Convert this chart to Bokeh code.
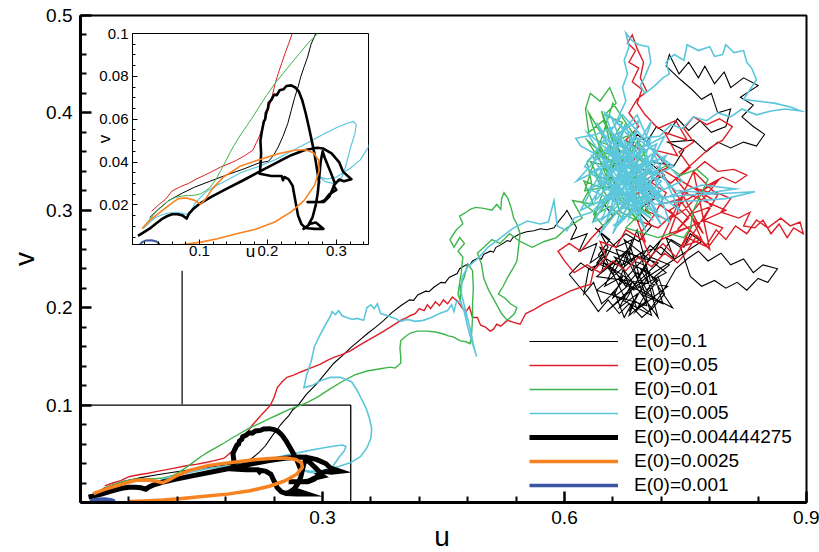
from bokeh.plotting import figure
from bokeh.models import Range1d, FixedTicker, Legend, LegendItem, CustomJSTickFormatter, Div
from bokeh.layouts import column
from bokeh.embed import file_html
from bokeh.resources import INLINE

# ---------------- data (u, v) ----------------
LABELS = ["E(0)=0.1", "E(0)=0.05", "E(0)=0.01", "E(0)=0.005",
          "E(0)=0.004444275", "E(0)=0.0025", "E(0)=0.001"]

E0_1 = [(0.027,0.0140),(0.040,0.0180),(0.055,0.0220),(0.075,0.0255),(0.093,0.0283),(0.115,0.0310),
    (0.140,0.0340),(0.165,0.0368),(0.187,0.0396),(0.201,0.0404),(0.208,0.0430),(0.215,0.0470),
    (0.222,0.0520),(0.229,0.0580),(0.234,0.0640),(0.239,0.0700),(0.244,0.0750),(0.248,0.0798),
    (0.253,0.0845),(0.258,0.0890),(0.263,0.0950),(0.270,0.1000),(0.280,0.1110),(0.293,0.1220),
    (0.304,0.1330),(0.314,0.1430),(0.325,0.1510),(0.335,0.1590),(0.345,0.1660),(0.355,0.1730),
    (0.366,0.1800),(0.376,0.1870),(0.386,0.1950),(0.397,0.2020),(0.408,0.2080),(0.413,0.2075),
    (0.418,0.2130),(0.428,0.2170),(0.432,0.2165),(0.438,0.2210),(0.447,0.2260),(0.452,0.2255),
    (0.457,0.2310),(0.467,0.2350),(0.470,0.2400),(0.478,0.2440),(0.482,0.2430),(0.486,0.2480),
    (0.493,0.2510),(0.497,0.2500),(0.500,0.2550),(0.508,0.2580),(0.512,0.2570),(0.515,0.2620),
    (0.522,0.2650),(0.529,0.2690),(0.533,0.2680),(0.536,0.2720),(0.545,0.2760),(0.553,0.2780),
    (0.562,0.2790),(0.570,0.2810),(0.578,0.2800),(0.587,0.2820),(0.594,0.2900),(0.600,0.2960),
    (0.603,0.300),(0.615,0.282),(0.608,0.270),(0.628,0.276),(0.618,0.258),(0.640,0.266),(0.632,0.246),
    (0.652,0.258),(0.646,0.236),(0.664,0.248),(0.650,0.222),(0.672,0.232),(0.660,0.210),(0.684,0.226),
    (0.668,0.200),(0.690,0.214),(0.680,0.192),(0.700,0.206),(0.688,0.196),(0.706,0.222),(0.694,0.240),
    (0.716,0.228),(0.700,0.212),(0.722,0.204),(0.712,0.232),(0.730,0.244),(0.706,0.252),(0.690,0.230),
    (0.674,0.256),(0.660,0.234),(0.642,0.254),(0.656,0.270),(0.638,0.282),(0.664,0.262),(0.684,0.270),
    (0.672,0.244),(0.698,0.258),(0.720,0.262),(0.736,0.250),(0.726,0.272),(0.744,0.262),(0.756,0.232),
    (0.770,0.222),(0.786,0.228),(0.800,0.220),(0.814,0.226),(0.826,0.218),(0.840,0.230),(0.852,0.226),
    (0.864,0.240),(0.846,0.244),(0.834,0.236),(0.822,0.250),(0.806,0.244),(0.794,0.256),(0.778,0.248),
    (0.766,0.258),(0.752,0.250),(0.738,0.240),(0.720,0.214),(0.704,0.196),(0.686,0.208),(0.674,0.190),
    (0.662,0.216),(0.646,0.204),(0.636,0.226),(0.624,0.214),(0.630,0.240),(0.648,0.246),(0.658,0.262),
    (0.676,0.276),(0.692,0.268),(0.708,0.284),(0.690,0.300),(0.712,0.312),(0.698,0.326),(0.724,0.336),
    (0.704,0.350),(0.736,0.346),(0.748,0.362),(0.728,0.370),(0.760,0.372),(0.776,0.360),(0.790,0.370),
    (0.806,0.364),(0.822,0.370),(0.838,0.366),(0.848,0.378),(0.834,0.386),(0.820,0.396),(0.834,0.408),
    (0.818,0.416),(0.840,0.428),(0.822,0.436),(0.806,0.426),(0.798,0.442),(0.786,0.430),(0.774,0.448),
    (0.766,0.436),(0.754,0.452),(0.742,0.440),(0.730,0.460),(0.726,0.448),(0.744,0.434),(0.758,0.424),
    (0.770,0.414),(0.782,0.420),(0.790,0.400),(0.806,0.404),(0.800,0.386),(0.782,0.380),(0.768,0.392),
    (0.754,0.382),(0.740,0.394),(0.728,0.378),(0.714,0.386),(0.702,0.370),(0.690,0.378),(0.680,0.360),
    (0.664,0.372),(0.672,0.350),(0.652,0.342),(0.666,0.322),(0.646,0.310),(0.660,0.294),(0.642,0.280),
    (0.654,0.262),(0.640,0.246),(0.662,0.238),(0.676,0.222),(0.690,0.236),(0.702,0.218),(0.716,0.232),
    (0.724,0.214),(0.710,0.200),(0.696,0.190),(0.680,0.204),(0.668,0.194),(0.654,0.208),(0.642,0.196),
    (0.630,0.210),(0.618,0.222),(0.606,0.234),(0.620,0.246),(0.634,0.238),(0.648,0.252),(0.664,0.244),
    (0.678,0.258),(0.694,0.250),(0.706,0.264),(0.720,0.254),(0.732,0.270),(0.748,0.262),(0.756,0.276),
    (0.770,0.268),(0.700,0.230),(0.652,0.196),(0.716,0.246),(0.664,0.260),(0.690,0.198),(0.728,0.222),
    (0.640,0.232),(0.682,0.262),(0.708,0.192),(0.658,0.214),(0.720,0.270),(0.676,0.208),(0.644,0.262),
    (0.698,0.244),(0.734,0.200),(0.668,0.228),(0.690,0.280),(0.712,0.210),(0.650,0.246),(0.686,0.218),
    (0.726,0.236),(0.674,0.270),(0.702,0.202),(0.640,0.218),(0.694,0.256),(0.716,0.190),(0.662,0.252),
    (0.706,0.236),(0.680,0.196)]

E0_05 = [(0.030,0.0170),(0.040,0.0200),(0.050,0.0225),(0.060,0.0265),(0.072,0.0285),(0.084,0.0300),
    (0.095,0.0320),(0.107,0.0338),(0.118,0.0355),(0.131,0.0377),(0.143,0.0392),(0.154,0.0408),
    (0.166,0.0430),(0.178,0.0455),(0.183,0.0490),(0.187,0.0517),(0.192,0.0560),(0.196,0.0595),
    (0.201,0.0650),(0.206,0.0704),(0.210,0.0760),(0.215,0.0813),(0.220,0.0860),(0.225,0.0907),
    (0.230,0.0950),(0.2355,0.1000),(0.240,0.108),(0.244,0.118),(0.250,0.124),(0.256,0.1285),
    (0.265,0.131),(0.273,0.134),(0.285,0.138),(0.2975,0.142),(0.306,0.146),(0.314,0.149),(0.325,0.152),
    (0.335,0.156),(0.345,0.161),(0.355,0.166),(0.366,0.171),(0.376,0.176),(0.386,0.181),(0.397,0.187),
    (0.405,0.190),(0.409,0.192),(0.415,0.194),(0.420,0.199),(0.426,0.197),(0.430,0.203),(0.434,0.199),
    (0.440,0.206),(0.445,0.202),(0.450,0.208),(0.455,0.204),(0.461,0.211),(0.467,0.207),(0.473,0.200),
    (0.478,0.196),(0.482,0.201),(0.486,0.190),(0.492,0.190),(0.496,0.182),(0.502,0.180),(0.508,0.176),
    (0.512,0.178),(0.516,0.183),(0.521,0.181),(0.529,0.187),(0.537,0.185),(0.545,0.183),(0.552,0.194),
    (0.562,0.198),(0.574,0.204),(0.590,0.210),(0.607,0.217),(0.620,0.221),(0.632,0.224),(0.636,0.238),
    (0.652,0.252),(0.644,0.268),(0.664,0.262),(0.676,0.280),(0.700,0.268),(0.690,0.290),(0.716,0.282),
    (0.734,0.296),(0.718,0.306),(0.746,0.312),(0.730,0.276),(0.758,0.284),(0.744,0.262),(0.770,0.270),
    (0.756,0.296),(0.782,0.304),(0.764,0.322),(0.790,0.316),(0.772,0.290),(0.796,0.282),(0.778,0.262),
    (0.752,0.272),(0.738,0.252),(0.722,0.266),(0.706,0.252),(0.694,0.276),(0.712,0.296),(0.726,0.318),
    (0.702,0.332),(0.728,0.344),(0.710,0.362),(0.740,0.356),(0.724,0.380),(0.752,0.372),(0.738,0.392),
    (0.716,0.384),(0.700,0.398),(0.690,0.410),(0.696,0.424),(0.684,0.432),(0.692,0.446),(0.680,0.452),
    (0.688,0.464),(0.678,0.472),(0.684,0.480),(0.690,0.466),(0.698,0.452),(0.694,0.436),(0.702,0.422),
    (0.690,0.414),(0.680,0.400),(0.692,0.386),(0.676,0.372),(0.694,0.362),(0.682,0.346),(0.706,0.340),
    (0.688,0.324),(0.714,0.318),(0.700,0.300),(0.728,0.290),(0.748,0.300),(0.762,0.312),(0.778,0.326),
    (0.796,0.334),(0.812,0.328),(0.826,0.336),(0.810,0.342),(0.790,0.340),(0.774,0.350),(0.760,0.340),
    (0.784,0.320),(0.806,0.312),(0.794,0.298),(0.816,0.292),(0.830,0.298),(0.822,0.284),(0.836,0.282),
    (0.846,0.290),(0.856,0.276),(0.866,0.286),(0.876,0.272),(0.884,0.282),(0.896,0.276),(0.892,0.288),
    (0.880,0.284),(0.868,0.292),(0.852,0.282),(0.838,0.290),(0.826,0.276),(0.812,0.284),(0.800,0.270),
    (0.788,0.280),(0.776,0.264),(0.764,0.274),(0.752,0.258),(0.740,0.246),(0.724,0.256),(0.708,0.242),
    (0.692,0.252),(0.676,0.238),(0.660,0.248),(0.644,0.236),(0.628,0.244),(0.612,0.236),(0.600,0.248),
    (0.592,0.258),(0.606,0.266),(0.620,0.258),(0.634,0.272),(0.650,0.286),(0.668,0.300),(0.684,0.314),
    (0.700,0.322),(0.716,0.336),(0.732,0.328),(0.748,0.340),(0.764,0.352),(0.780,0.364),(0.796,0.372),
    (0.808,0.386),(0.792,0.394),(0.776,0.388),(0.760,0.396),(0.748,0.384),(0.760,0.370),(0.742,0.360),
    (0.756,0.344),(0.738,0.332),(0.752,0.318),(0.736,0.306),(0.754,0.292),(0.740,0.280),(0.790,0.330),
    (0.730,0.300),(0.780,0.260),(0.760,0.340),(0.720,0.270),(0.800,0.300),(0.744,0.320),(0.772,0.276),
    (0.716,0.344),(0.786,0.310),(0.750,0.264)]

E0_01 = [(0.020,0.0104),(0.028,0.0135),(0.0365,0.0167),(0.046,0.0195),(0.055,0.0221),(0.065,0.0235),
    (0.074,0.0241),(0.084,0.0244),(0.093,0.0245),(0.102,0.0252),(0.110,0.0268),(0.116,0.0283),
    (0.124,0.0320),(0.131,0.0360),(0.140,0.0415),(0.149,0.0470),(0.158,0.0517),(0.168,0.0564),
    (0.178,0.0611),(0.187,0.0657),(0.198,0.0711),(0.210,0.0766),(0.222,0.0813),(0.234,0.0860),
    (0.246,0.0906),(0.258,0.0953),(0.270,0.0990),(0.282,0.1030),(0.293,0.108),(0.310,0.117),
    (0.326,0.125),(0.340,0.131),(0.355,0.135),(0.370,0.137),(0.384,0.139),(0.390,0.138),(0.397,0.143),
    (0.397,0.150),(0.396,0.158),(0.397,0.166),(0.402,0.170),(0.409,0.174),(0.418,0.176),(0.430,0.176),
    (0.440,0.175),(0.450,0.173),(0.456,0.171),(0.462,0.170),(0.471,0.166),(0.478,0.165),(0.483,0.163),
    (0.485,0.175),(0.486,0.190),(0.486,0.204),(0.487,0.220),(0.486,0.238),(0.480,0.245),(0.476,0.232),
    (0.471,0.222),(0.471,0.207),(0.468,0.214),(0.472,0.236),(0.474,0.252),(0.468,0.258),(0.476,0.266),
    (0.470,0.272),(0.463,0.262),(0.458,0.270),(0.466,0.280),(0.474,0.286),(0.470,0.294),(0.478,0.298),
    (0.483,0.301),(0.490,0.303),(0.500,0.302),(0.510,0.300),(0.516,0.306),(0.521,0.301),(0.522,0.312),
    (0.525,0.318),(0.530,0.312),(0.534,0.302),(0.537,0.292),(0.541,0.286),(0.545,0.276),(0.543,0.262),
    (0.541,0.248),(0.536,0.240),(0.530,0.232),(0.524,0.222),(0.518,0.214),(0.526,0.210),(0.533,0.204),
    (0.541,0.200),(0.538,0.194),(0.533,0.190),(0.529,0.187),(0.522,0.194),(0.514,0.206),(0.506,0.218),
    (0.500,0.230),(0.497,0.245),(0.492,0.256),(0.500,0.262),(0.510,0.270),(0.520,0.266),(0.532,0.276),
    (0.545,0.268),(0.560,0.262),(0.575,0.268),(0.590,0.272),(0.603,0.282),(0.622,0.292),(0.610,0.310),
    (0.636,0.306),(0.624,0.330),(0.650,0.322),(0.632,0.350),(0.660,0.344),(0.640,0.372),(0.668,0.362),
    (0.648,0.392),(0.630,0.380),(0.626,0.404),(0.632,0.420),(0.644,0.412),(0.656,0.426),(0.664,0.410),
    (0.650,0.398),(0.672,0.390),(0.658,0.370),(0.684,0.378),(0.670,0.352),(0.694,0.356),(0.676,0.330),
    (0.700,0.338),(0.682,0.310),(0.704,0.316),(0.688,0.290),(0.666,0.300),(0.648,0.284),(0.636,0.296),
    (0.654,0.312),(0.638,0.336),(0.662,0.330),(0.646,0.356),(0.672,0.344),(0.690,0.370),(0.702,0.352),
    (0.680,0.326),(0.698,0.300),(0.676,0.282),(0.700,0.276),(0.716,0.272),(0.730,0.276),(0.748,0.272),
    (0.756,0.282),(0.760,0.300),(0.770,0.318),(0.778,0.332),(0.764,0.342),(0.744,0.336),(0.726,0.346),
    (0.710,0.338),(0.694,0.352),(0.678,0.364),(0.660,0.356),(0.642,0.362),(0.628,0.350),(0.634,0.326),
    (0.622,0.308),(0.640,0.296),(0.656,0.304),(0.672,0.292),(0.690,0.304),(0.706,0.296),(0.630,0.400),
    (0.668,0.300),(0.640,0.360),(0.690,0.330),(0.625,0.320),(0.660,0.410),(0.700,0.360),(0.636,0.290),
    (0.676,0.390),(0.650,0.330),(0.690,0.290),(0.628,0.372),(0.664,0.346),(0.646,0.402),(0.684,0.316)]

E0_005 = [(0.018,0.0090),(0.026,0.0115),(0.035,0.0140),(0.046,0.0155),(0.055,0.0162),(0.065,0.0165),
    (0.074,0.0162),(0.081,0.0155),(0.088,0.0172),(0.093,0.0205),(0.100,0.0230),(0.110,0.0262),
    (0.125,0.0290),(0.140,0.0315),(0.160,0.0350),(0.187,0.0380),(0.210,0.0410),(0.234,0.0450),
    (0.258,0.0490),(0.281,0.0530),(0.300,0.0560),(0.315,0.0580),(0.325,0.0590),(0.329,0.0575),
    (0.327,0.0530),(0.321,0.0470),(0.316,0.0410),(0.311,0.0350),(0.305,0.0310),(0.295,0.0300),
    (0.283,0.0310),(0.276,0.0330),(0.286,0.0320),(0.300,0.0330),(0.320,0.0370),(0.335,0.0410),
    (0.347,0.0470),(0.355,0.0560),(0.360,0.0660),(0.361,0.0760),(0.358,0.0870),(0.354,0.0970),
    (0.349,0.1050),(0.343,0.1150),(0.336,0.1240),(0.322,0.1285),(0.310,0.1285),(0.2975,0.1250),
    (0.287,0.1200),(0.277,0.1180),(0.280,0.1300),(0.286,0.1450),(0.290,0.1600),(0.2975,0.1730),
    (0.304,0.1830),(0.309,0.1900),(0.312,0.1960),(0.316,0.1930),(0.320,0.1970),(0.324,0.1920),
    (0.330,0.1900),(0.337,0.1880),(0.343,0.1890),(0.351,0.1870),(0.355,0.2000),(0.360,0.2030),
    (0.364,0.1990),(0.368,0.2040),(0.372,0.1940),(0.380,0.1920),(0.390,0.1890),(0.397,0.1860),
    (0.405,0.1880),(0.415,0.1860),(0.425,0.1870),(0.435,0.1900),(0.445,0.1940),(0.455,0.1970),
    (0.460,0.2030),(0.463,0.1960),(0.466,0.2060),(0.471,0.2070),(0.476,0.1950),(0.480,0.1800),
    (0.484,0.1680),(0.488,0.1580),(0.491,0.1500),(0.487,0.1620),(0.484,0.1750),(0.478,0.1950),
    (0.472,0.2150),(0.473,0.2310),(0.480,0.2420),(0.492,0.2500),(0.505,0.2620),(0.521,0.2720),
    (0.537,0.2820),(0.554,0.2890),(0.570,0.2860),(0.580,0.2880),(0.587,0.3100),(0.591,0.2840),
    (0.603,0.279),(0.612,0.292),(0.640,0.300),(0.700,0.352),(0.655,0.372),(0.690,0.295),(0.712,0.340),
    (0.648,0.320),(0.676,0.388),(0.704,0.310),(0.660,0.284),(0.722,0.322),(0.684,0.366),(0.632,0.338),
    (0.694,0.306),(0.668,0.350),(0.716,0.298),(0.652,0.362),(0.638,0.310),(0.706,0.372),(0.680,0.292),
    (0.726,0.356),(0.662,0.330),(0.690,0.382),(0.646,0.290),(0.700,0.330),(0.672,0.304),(0.634,0.356),
    (0.718,0.314),(0.684,0.340),(0.658,0.396),(0.696,0.362),(0.642,0.328),(0.710,0.290),(0.670,0.318),
    (0.700,0.312),(0.730,0.314),(0.760,0.316),(0.790,0.317),(0.836,0.319),(0.800,0.312),(0.770,0.310),
    (0.740,0.309),(0.712,0.306),(0.688,0.330),(0.664,0.346),(0.620,0.366),(0.614,0.374),(0.640,0.378),
    (0.662,0.386),(0.668,0.398),(0.676,0.412),(0.672,0.426),(0.678,0.440),(0.674,0.454),(0.680,0.468),
    (0.676,0.482),(0.684,0.474),(0.692,0.470),(0.704,0.468),(0.707,0.452),(0.700,0.438),(0.694,0.428),
    (0.700,0.420),(0.712,0.428),(0.722,0.436),(0.730,0.440),(0.726,0.452),(0.736,0.460),(0.748,0.454),
    (0.752,0.470),(0.766,0.464),(0.780,0.468),(0.786,0.458),(0.796,0.460),(0.800,0.470),(0.810,0.462),
    (0.822,0.464),(0.826,0.452),(0.832,0.446),(0.838,0.434),(0.830,0.424),(0.822,0.414),(0.840,0.412),
    (0.860,0.410),(0.880,0.406),(0.893,0.402),(0.874,0.404),(0.856,0.402),(0.838,0.398),(0.820,0.404),
    (0.806,0.396),(0.790,0.400),(0.776,0.392),(0.760,0.396),(0.746,0.384),(0.732,0.388),(0.718,0.376),
    (0.690,0.374),(0.650,0.346),(0.698,0.284),(0.664,0.362),(0.724,0.304),(0.676,0.336),(0.636,0.300),
    (0.708,0.358),(0.660,0.310),(0.692,0.392),(0.644,0.368),(0.720,0.330),(0.668,0.286),(0.702,0.346),
    (0.630,0.322),(0.686,0.300),(0.714,0.368),(0.652,0.338),(0.696,0.318),(0.674,0.372),(0.738,0.320),
    (0.780,0.318),(0.812,0.322),(0.770,0.326),(0.722,0.312),(0.682,0.352),(0.656,0.300),(0.694,0.336),
    (0.668,0.376),(0.620,0.300),(0.735,0.345),(0.650,0.400),(0.700,0.280),(0.628,0.380),(0.742,0.300),
    (0.690,0.398),(0.615,0.330),(0.724,0.376),(0.660,0.276),(0.708,0.392),(0.636,0.288),(0.746,0.330),
    (0.672,0.398),(0.625,0.345),(0.730,0.288),(0.698,0.366),(0.644,0.276),(0.716,0.352),(0.660,0.340),
    (0.688,0.310),(0.640,0.390),(0.720,0.285),(0.676,0.360),(0.630,0.305),(0.705,0.325),(0.655,0.385),
    (0.690,0.345),(0.665,0.315)]

E0_004444275 = [(0.010,0.0055),(0.020,0.0075),(0.027,0.0089),(0.036,0.0112),(0.046,0.0136),(0.053,0.0148),
    (0.060,0.0156),(0.068,0.0156),(0.075,0.0151),(0.081,0.0136),(0.085,0.0160),(0.090,0.0178),
    (0.100,0.0205),(0.117,0.0237),(0.140,0.0276),(0.164,0.0315),(0.187,0.0354),(0.210,0.0393),
    (0.234,0.0432),(0.253,0.0455),(0.272,0.0467),(0.281,0.0463),(0.293,0.0440),(0.304,0.0400),
    (0.310,0.0354),(0.322,0.0320),(0.311,0.0310),(0.304,0.0318),(0.296,0.0290),(0.300,0.0270),
    (0.290,0.0250),(0.283,0.0222),(0.276,0.0213),(0.258,0.0213),(0.282,0.0214),(0.290,0.0240),
    (0.298,0.0300),(0.292,0.0350),(0.283,0.0420),(0.280,0.0450),(0.277,0.0400),(0.275,0.0330),
    (0.273,0.0260),(0.270,0.0200),(0.265,0.0140),(0.258,0.0100),(0.252,0.0088),(0.262,0.0112),
    (0.270,0.0118),(0.281,0.0088),(0.268,0.0088),(0.255,0.0092),(0.249,0.0110),(0.244,0.0150),
    (0.240,0.0220),(0.236,0.0290),(0.230,0.0320),(0.224,0.0330),(0.222,0.0315),(0.220,0.0335),
    (0.205,0.0335),(0.188,0.0345),(0.189,0.0380),(0.190,0.0440),(0.189,0.0500),(0.191,0.0540),
    (0.194,0.0590),(0.196,0.0600),(0.197,0.0630),(0.200,0.0650),(0.201,0.0675),(0.205,0.0690),
    (0.209,0.0715),(0.213,0.0712),(0.217,0.0735),(0.223,0.0740),(0.227,0.0755),(0.234,0.0758),
    (0.240,0.0748),(0.245,0.0730),(0.250,0.0690),(0.255,0.0630),(0.260,0.0560),(0.264,0.0500),
    (0.268,0.0440),(0.272,0.0360),(0.275,0.0300)]

E0_0025 = [(0.016,0.0090),(0.020,0.0104),(0.030,0.0135),(0.046,0.0174),(0.058,0.0205),(0.069,0.0229),
    (0.081,0.0232),(0.093,0.0221),(0.102,0.0203),(0.109,0.0229),(0.119,0.0276),(0.135,0.0330),
    (0.159,0.0380),(0.187,0.0411),(0.215,0.0439),(0.239,0.0455),(0.255,0.0457),(0.267,0.0442),
    (0.274,0.0408),(0.275,0.0361),(0.268,0.0291),(0.253,0.0221),(0.234,0.0167),(0.210,0.0120),
    (0.182,0.0086),(0.154,0.0065),(0.126,0.0042),(0.102,0.0026),(0.079,0.0016),(0.060,0.0010)]

E0_001 = [(0.012,0.0012),(0.016,0.0026),(0.022,0.0034),(0.030,0.0035),(0.037,0.0029),(0.041,0.0018),
    (0.038,0.0008),(0.030,0.0003),(0.020,0.0003),(0.014,0.0006),(0.012,0.0012)]

SERIES = [E0_1, E0_05, E0_01, E0_005, E0_004444275, E0_0025, E0_001]

# tick values
MAIN_X_TICKS = [0.3, 0.6, 0.9]
MAIN_X_MINOR = [0.06, 0.12, 0.18, 0.24, 0.36, 0.42, 0.48, 0.54, 0.66, 0.72, 0.78, 0.84]
MAIN_Y_TICKS = [0.1, 0.2, 0.3, 0.4, 0.5]
MAIN_Y_MINOR = [0.02, 0.04, 0.06, 0.08, 0.12, 0.14, 0.16, 0.18, 0.22, 0.24, 0.26, 0.28,
                0.32, 0.34, 0.36, 0.38, 0.42, 0.44, 0.46, 0.48]
INSET_X_TICKS = [0.1, 0.2, 0.3]
INSET_X_MINOR = [0.02, 0.04, 0.06, 0.08, 0.12, 0.14, 0.16, 0.18, 0.22, 0.24, 0.26, 0.28, 0.32, 0.34]
INSET_Y_TICKS = [0.02, 0.04, 0.06, 0.08, 0.1]
INSET_Y_MINOR = [0.005, 0.01, 0.015, 0.025, 0.03, 0.035, 0.045, 0.05, 0.055, 0.065, 0.07, 0.075,
                 0.085, 0.09, 0.095]

ZOOM_BOX_U = [0.0, 0.335]
ZOOM_BOX_V = [0.0, 0.1]
CONNECTOR_U = 0.126
CONNECTOR_V = [0.1005, 0.238]

# ---------------- styles ----------------
COLORS = ["#000000", "#dc1f26", "#3db54a", "#5bc6dc", "#000000", "#f7821f", "#3a55a4"]
MAIN_W = [1.1, 1.4, 1.4, 1.6, 5, 3.5, 3.5]
INSET_W = [1.0, 1.0, 1.0, 1.2, 2.6, 1.6, 2.0]
JOINS = ["miter", "miter", "miter", "miter", "miter", "round", "round"]
FONT = "Liberation Sans"


def split(pairs):
    return [a for a, _ in pairs], [b for _, b in pairs]


def style_axis(ax, ticks, minor, major_in, minor_in, line_w, tick_w, font_size, standoff,
               label="", label_size="17px", label_standoff=0):
    ax.ticker = FixedTicker(ticks=ticks, minor_ticks=minor)
    ax.major_tick_in = major_in
    ax.major_tick_out = 0
    ax.minor_tick_in = minor_in
    ax.minor_tick_out = 0
    ax.axis_line_width = line_w
    ax.axis_line_color = "black"
    ax.major_tick_line_width = tick_w
    ax.minor_tick_line_width = max(1, tick_w - 0.5)
    ax.major_tick_line_color = "black"
    ax.minor_tick_line_color = "black"
    ax.major_label_text_font = FONT
    ax.major_label_text_font_size = font_size
    ax.major_label_text_color = "black"
    ax.major_label_standoff = standoff
    ax.formatter = CustomJSTickFormatter(code="return String(tick);")
    if label:
        ax.axis_label = label
        ax.axis_label_text_font = FONT
        ax.axis_label_text_font_size = label_size
        ax.axis_label_text_font_style = "normal"
        ax.axis_label_text_color = "black"
        ax.axis_label_standoff = label_standoff


# ---------------- main figure ----------------
p = figure(width=819, height=552, x_range=Range1d(0, 0.9), y_range=Range1d(0, 0.5),
           output_backend="svg", toolbar_location=None,
           min_border_left=80, min_border_right=13, min_border_top=15, min_border_bottom=50)
p.grid.visible = False
p.outline_line_color = "black"
p.outline_line_width = 2
p.background_fill_color = "white"
p.border_fill_color = "white"

style_axis(p.xaxis[0], MAIN_X_TICKS, MAIN_X_MINOR, 11, 6, 3, 2.5, "19px", 8)
style_axis(p.yaxis[0], MAIN_Y_TICKS, MAIN_Y_MINOR, 11, 6, 3, 2.5, "19px", 8,
           label="v", label_size="28px", label_standoff=3)

# zoom box and connector
p.quad(left=[ZOOM_BOX_U[0]], right=[ZOOM_BOX_U[1]], bottom=[ZOOM_BOX_V[0]], top=[ZOOM_BOX_V[1]],
       fill_alpha=0, line_color="black", line_width=1.3)
p.segment(x0=[CONNECTOR_U], y0=[CONNECTOR_V[0]], x1=[CONNECTOR_U], y1=[CONNECTOR_V[1]],
          line_color="#333333", line_width=1.5)

items = []
for data, lab, col, w, j in zip(SERIES, LABELS, COLORS, MAIN_W, JOINS):
    u, v = split(data)
    r = p.line(u, v, line_color=col, line_width=w, line_join=j)
    items.append(LegendItem(label=lab, renderers=[r]))

legend = Legend(items=items, location=(449, 6), padding=0, margin=0, spacing=2,
                glyph_width=89, glyph_height=20, label_height=20, label_standoff=16,
                label_text_font=FONT, label_text_font_size="19px", label_text_color="black",
                border_line_alpha=0, background_fill_alpha=0)
p.add_layout(legend)

# ---------------- inset figure ----------------
inset = figure(width=329, height=246, x_range=Range1d(0.002, 0.347), y_range=Range1d(0.0015, 0.1),
               output_backend="svg", toolbar_location=None,
               min_border_left=80, min_border_right=5, min_border_top=10, min_border_bottom=25)
inset.grid.visible = False
inset.outline_line_color = "black"
inset.outline_line_width = 1
inset.background_fill_color = "white"
inset.border_fill_color = None
style_axis(inset.xaxis[0], INSET_X_TICKS, INSET_X_MINOR, 5, 3, 1, 1, "15px", 1,
           label="u", label_size="17px", label_standoff=-17)
style_axis(inset.yaxis[0], INSET_Y_TICKS, INSET_Y_MINOR, 5, 3, 1, 1, "15px", 4,
           label="v", label_size="17px", label_standoff=-18)

for data, col, w in zip(SERIES, COLORS, INSET_W):
    u, v = split(data)
    inset.line(u, v, line_color=col, line_width=w, line_join="round")

inset.margin = (23 - 552, 0, 0, 52)

# x-axis title of the main plot (placed below the tick labels)
u_title = Div(text="u", width=30, height=28, margin=(523 - 269, 0, 0, 427),
              styles={"font-family": FONT, "font-size": "28px", "line-height": "28px",
                      "color": "black", "text-align": "center"})

layout = column(p, inset, u_title, spacing=0)
open("out.html", "w").write(file_html(layout, INLINE))
